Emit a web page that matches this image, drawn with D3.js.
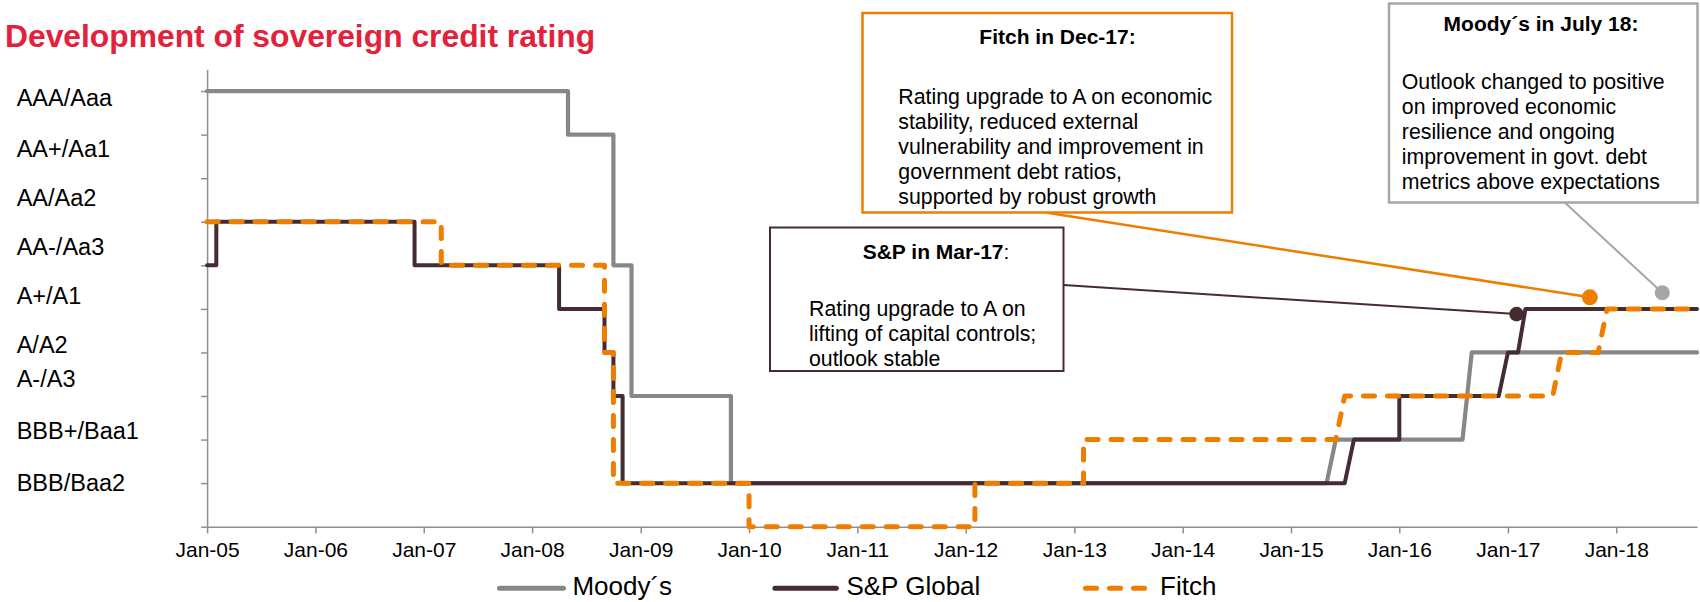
<!DOCTYPE html>
<html>
<head>
<meta charset="utf-8">
<script src="https://cdn.jsdelivr.net/npm/d3@7"></script>
<style>
  html, body { margin: 0; padding: 0; background: #ffffff; }
  svg { display: block; }
  text { font-family: "Liberation Sans", Arial, Helvetica, sans-serif; }
</style>
</head>
<body>
<svg id="chart" width="1700" height="602"></svg>
<script>
// ---------------- DATA ----------------
const titleText = "Development of sovereign credit rating";

const xTickDates = ["2005-01-01","2006-01-01","2007-01-01","2008-01-01","2009-01-01","2010-01-01","2011-01-01",
                    "2012-01-01","2013-01-01","2014-01-01","2015-01-01","2016-01-01","2017-01-01","2018-01-01"];
const xTickLabels = ["Jan-05","Jan-06","Jan-07","Jan-08","Jan-09","Jan-10","Jan-11",
                     "Jan-12","Jan-13","Jan-14","Jan-15","Jan-16","Jan-17","Jan-18"];

const yTickLevels = [0,1,2,3,4,5,6,7,8,9,10];
const ratingLabels = ["AAA/Aaa","AA+/Aa1","AA/Aa2","AA-/Aa3","A+/A1","A/A2","A-/A3","BBB+/Baa1","BBB/Baa2"];
const ratingLabelLevels = [9.85, 8.68, 7.56, 6.42, 5.31, 4.18, 3.40, 2.21, 1.01];

const seriesNames = ["Moody\u00b4s", "S&P Global", "Fitch"];

const moodysDates  = ["2005-01-01","2008-05-01","2008-05-01","2008-10-01","2008-10-01","2008-12-01","2008-12-01",
                      "2009-11-01","2009-11-01","2015-05-01","2015-06-01","2016-08-01","2016-09-01","2018-09-30"];
const moodysLevels = [10,10,9,9,6,6,3,3,1,1,2,2,4,4];

const spDates  = ["2005-01-01","2005-02-01","2005-02-01","2006-12-01","2006-12-01","2008-04-01","2008-04-01",
                  "2008-09-01","2008-09-01","2008-10-01","2008-10-01","2008-11-01","2008-11-01","2015-07-01",
                  "2015-08-01","2016-01-01","2016-01-01","2016-12-01","2017-01-01","2017-02-04","2017-03-01","2018-09-30"];
const spLevels = [6,6,7,7,6,6,5,5,4,4,3,3,1,1,2,2,3,3,4,4,5,5];

const fitchDates  = ["2005-01-01","2007-03-01","2007-03-01","2008-09-01","2008-09-01","2008-10-01","2008-10-01",
                     "2010-01-01","2010-01-01","2012-02-01","2012-02-01","2013-02-01","2013-02-01","2015-06-01",
                     "2015-07-01","2017-06-01","2017-07-01","2017-11-01","2017-12-01","2018-09-30"];
const fitchLevels = [7,7,6,6,4,4,1,1,0,0,1,1,2,2,3,3,4,4,5,5];

// annotation markers (S&P Mar-17, Fitch Dec-17, Moody's Jul-18)
const annotTitles = ["S&P in Mar-17", "Fitch in Dec-17:", "Moody\u00b4s in July 18:"];
const annotBodies = [
  ["Rating upgrade to A on", "lifting of capital controls;", "outlook stable"],
  ["Rating upgrade to A on economic", "stability, reduced external", "vulnerability and improvement in",
   "government debt ratios,", "supported by robust growth"],
  ["Outlook changed to positive", "on improved economic", "resilience and ongoing",
   "improvement in govt. debt", "metrics above expectations"]
];
const annotDates  = ["2017-01-30", "2017-10-04", "2018-06-05"];
const annotLevels = [4.88, 5.265, 5.37];

// ---------------- STYLE / LAYOUT ----------------
const colors = ["#8b8686", "#442c31", "#ee7d00"];
const widths = [4.2, 4, 5];
const dashes = [null, null, "11,13"];
const boxStroke = ["#442c31", "#ee7d00", "#a6a6a6"];
const boxes = [
  {x: 770,   y: 227.5, w: 293.5, h: 143.5, sw: 2,   titleX: 936,    titleY: 258.5, bodyX: 809,    bodyY: 315.8, ax: 1063.5, ay: 285,   lw: 2},
  {x: 862.5, y: 13,    w: 369.5, h: 199.5, sw: 2.5, titleX: 1057.5, titleY: 44.2,  bodyX: 898.3,  bodyY: 104.1, ax: 1047,   ay: 212.7, lw: 2.5},
  {x: 1389,  y: 3.5,   w: 308.5, h: 199,   sw: 2.5, titleX: 1541,   titleY: 30.5,  bodyX: 1401.8, bodyY: 89.1,  ax: 1565,   ay: 202.7, lw: 2}
];
const dotR = [7.3, 8, 7.5];
const legendItems = [
  {x1: 499.5, x2: 563.5, tx: 572.4},
  {x1: 774.9, x2: 836.3, tx: 846.4},
  {x1: 1085.5, x2: 1144.5, tx: 1160}
];

// ---------------- CHART ----------------
const svg = d3.select("#chart");
const parse = d3.utcParse("%Y-%m-%d");

const x = d3.scaleUtc()
  .domain([parse("2005-01-01"), parse("2018-09-30")])
  .range([207.1, 1697]);
const y = d3.scaleLinear()
  .domain([0, 10.5])
  .range([526.7, 69.3]);

const axisColor = "#8f8f8f";

// Title
svg.append("text")
  .attr("x", 5).attr("y", 46.7)
  .attr("font-size", 31.8).attr("font-weight", "bold")
  .attr("fill", "#e2223c")
  .text(titleText);

// Y axis
const yAxis = svg.append("g")
  .attr("transform", `translate(${x.range()[0]},0)`)
  .call(d3.axisLeft(y).tickValues(yTickLevels).tickFormat("").tickSize(6).tickSizeOuter(0));
yAxis.selectAll("path, line").attr("stroke", axisColor).attr("stroke-width", 1.5);

svg.append("g").selectAll("text")
  .data(ratingLabels)
  .join("text")
  .attr("x", 16.7)
  .attr("y", (d, i) => y(ratingLabelLevels[i]))
  .attr("dy", "0.358em")
  .attr("font-size", 23.5)
  .attr("fill", "#000")
  .text(d => d);

// X axis
const xAxis = svg.append("g")
  .attr("transform", `translate(0,${y(0)})`)
  .call(d3.axisBottom(x)
    .tickValues(xTickDates.map(parse))
    .tickFormat((d, i) => xTickLabels[i])
    .tickSize(6.7).tickSizeOuter(0).tickPadding(9));
xAxis.selectAll("path, line").attr("stroke", axisColor).attr("stroke-width", 1.5);
xAxis.selectAll("text")
  .attr("font-size", 21)
  .attr("fill", "#000")
  .style("font-family", "'Liberation Sans', Arial, sans-serif");

// Series
const series = [
  moodysDates.map((d, i) => ({date: parse(d), level: moodysLevels[i]})),
  spDates.map((d, i) => ({date: parse(d), level: spLevels[i]})),
  fitchDates.map((d, i) => ({date: parse(d), level: fitchLevels[i]}))
];
const line = d3.line().x(d => x(d.date)).y(d => y(d.level));

svg.append("g").selectAll("path")
  .data(series)
  .join("path")
  .attr("d", line)
  .attr("fill", "none")
  .attr("stroke", (d, i) => colors[i])
  .attr("stroke-width", (d, i) => widths[i])
  .attr("stroke-linejoin", "round")
  .attr("stroke-linecap", "round")
  .attr("stroke-dasharray", (d, i) => dashes[i]);

// Annotation boxes
const annG = svg.append("g");
boxes.forEach((b, i) => {
  const px = x(parse(annotDates[i])), py = y(annotLevels[i]);
  annG.append("line")
    .attr("x1", b.ax).attr("y1", b.ay).attr("x2", px).attr("y2", py)
    .attr("stroke", boxStroke[i]).attr("stroke-width", b.lw);
  annG.append("rect")
    .attr("x", b.x).attr("y", b.y).attr("width", b.w).attr("height", b.h)
    .attr("fill", "#fff").attr("stroke", boxStroke[i]).attr("stroke-width", b.sw);
  const t = annG.append("text")
    .attr("x", b.titleX).attr("y", b.titleY)
    .attr("text-anchor", "middle")
    .attr("font-size", 21).attr("fill", "#000");
  t.append("tspan").attr("font-weight", "bold").text(annotTitles[i]);
  if (i === 0) t.append("tspan").text(":");
  annG.append("g").selectAll("text")
    .data(annotBodies[i])
    .join("text")
    .attr("x", b.bodyX)
    .attr("y", (d, k) => b.bodyY + k * 25)
    .attr("font-size", 21.3).attr("fill", "#000")
    .text(d => d);
});

// Annotation markers (dots)
svg.append("g").selectAll("circle")
  .data(annotDates)
  .join("circle")
  .attr("cx", d => x(parse(d)))
  .attr("cy", (d, i) => y(annotLevels[i]))
  .attr("r", (d, i) => dotR[i])
  .attr("fill", (d, i) => [colors[1], colors[2], "#a6a6a6"][i]);

// Legend
const legY = 588.3;
const leg = svg.append("g");
seriesNames.forEach((name, i) => {
  const it = legendItems[i];
  leg.append("line")
    .attr("x1", it.x1).attr("x2", it.x2).attr("y1", legY).attr("y2", legY)
    .attr("stroke", colors[i]).attr("stroke-width", 5)
    .attr("stroke-linecap", "round")
    .attr("stroke-dasharray", dashes[i]);
  leg.append("text")
    .attr("x", it.tx).attr("y", 595.1)
    .attr("font-size", 26).attr("fill", "#000")
    .text(name);
});
</script>
</body>
</html>
